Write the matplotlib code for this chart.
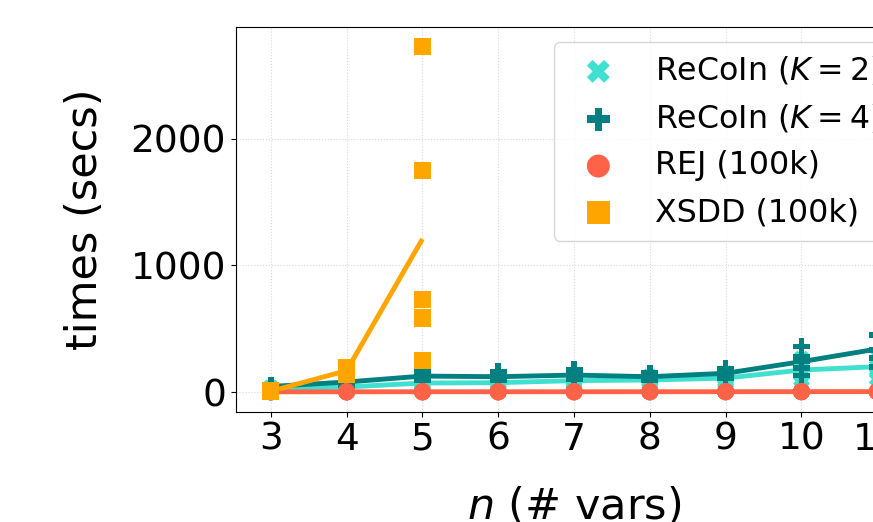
import numpy as np
import matplotlib
matplotlib.use('Agg')
import matplotlib.pyplot as plt

# number of variables
n_vars = [3, 4, 5, 6, 7, 8, 9, 10, 11]

# per-trial run times (secs), one list per n
recoin_k2 = [[15, 20, 25, 28, 32], [30, 35, 40, 45, 50], [50, 60, 70, 80, 95],
             [55, 65, 75, 80, 95], [65, 80, 90, 100, 115], [70, 85, 95, 105, 120],
             [80, 95, 110, 120, 145], [100, 140, 170, 200, 260], [110, 160, 200, 240, 290]]
recoin_k4 = [[30, 40, 45, 50, 55], [55, 70, 80, 90, 100], [95, 110, 125, 140, 160],
             [90, 105, 120, 130, 160], [100, 115, 130, 150, 175], [95, 110, 120, 130, 150],
             [110, 130, 150, 165, 185], [130, 190, 240, 280, 360], [200, 270, 330, 450, 450]]
rej = [[1.2, 1.5, 1.8, 2.0, 2.3], [1.4, 1.6, 1.9, 2.1, 2.4], [1.5, 1.8, 2.0, 2.3, 2.6],
       [1.6, 1.9, 2.2, 2.4, 2.7], [1.8, 2.0, 2.3, 2.6, 2.9], [1.9, 2.2, 2.5, 2.8, 3.1],
       [2.0, 2.4, 2.7, 3.0, 3.3], [2.2, 2.6, 2.9, 3.2, 3.6], [2.4, 2.8, 3.1, 3.5, 3.9]]
xsdd_vars = [3, 4, 5]
xsdd = [[3, 5, 6, 8, 10], [140, 160, 170, 180, 195], [253, 585, 735, 1747, 2727]]

series = [
    ('ReCoIn ($K=2$)', n_vars, recoin_k2, '#40E0D0', 'X'),
    ('ReCoIn ($K=4$)', n_vars, recoin_k4, '#008080', 'P'),
    ('REJ (100k)', n_vars, rej, '#FF6347', 'o'),
    ('XSDD (100k)', xsdd_vars, xsdd, '#FFA500', 's'),
]

fig = plt.figure(figsize=(8.73, 5.22), dpi=100)
ax = fig.add_axes([0.2703, 0.2107, 0.7745, 0.7376])

for label, xs, trials, color, marker in series:
    means = [np.mean(t) for t in trials]
    ax.plot(xs, means, color=color, lw=3.5, solid_capstyle='butt')
    px = []
    py = []
    for x, t in zip(xs, trials):
        for v in t:
            px.append(x)
            py.append(v)
    ax.scatter(px, py, color=color, marker=marker, s=150, label=label,
               edgecolors='none', zorder=3)

ax.set_xlim(2.54, 11.46)
ax.set_ylim(-158, 2885)
ax.set_xticks(n_vars)
ax.set_yticks([0, 1000, 2000])
ax.tick_params(labelsize=27)
ax.grid(True, ls=':', color='#d8d8d8', lw=0.8)
ax.set_axisbelow(True)
ax.set_xlabel('$n$ (# vars)', fontsize=31, labelpad=20)
ax.set_ylabel('times (secs)', fontsize=31, labelpad=18)

ax.legend(loc='upper left', bbox_to_anchor=(554 / 873, 1 - 42 / 522),
          bbox_transform=fig.transFigure, borderaxespad=0, fontsize=22.8,
          labelspacing=0.5, markerscale=1.35, edgecolor='#cccccc')

fig.savefig('out.png', dpi=100)
